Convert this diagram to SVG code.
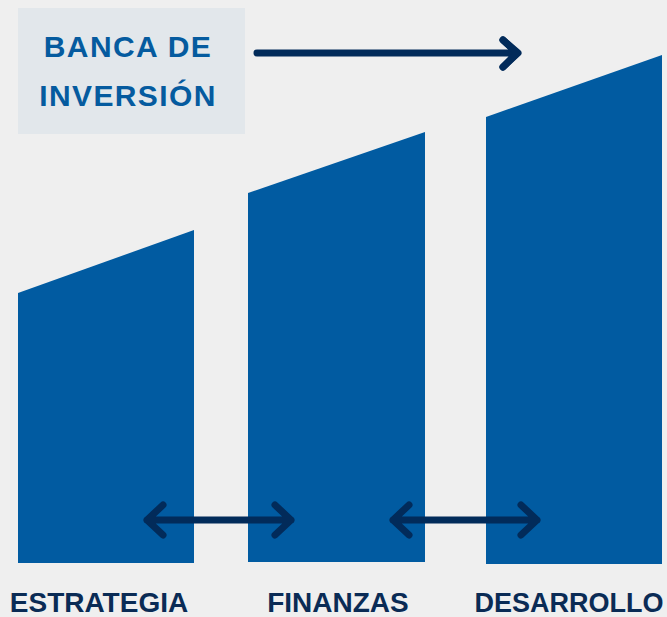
<svg xmlns="http://www.w3.org/2000/svg" width="667" height="617" viewBox="0 0 667 617">
<defs>
<style>
.bar{fill:#015ba1}
.conn{stroke:#022b5a;stroke-width:7;fill:none;stroke-linecap:round;stroke-linejoin:round}
.lbl{font-family:"Liberation Sans",Arial,sans-serif;font-weight:bold;font-size:28px;fill:#0a2b55;text-anchor:middle}
.ttl{font-family:"Liberation Sans",Arial,sans-serif;font-weight:bold;font-size:30px;fill:#055b9f;text-anchor:middle;letter-spacing:1.4px}
</style>
</defs>
<rect width="667" height="617" fill="#efefef"/>
<g id="banca">
<rect x="18" y="8" width="227" height="126" fill="#e2e7eb"/>
<text class="ttl" x="128" y="57">BANCA DE</text>
<text class="ttl" x="128" y="106">INVERSIÓN</text>
</g>
<g id="estrategia">
<polygon class="bar" points="18,293 194,230 194,563 18,563"/>
<text class="lbl" x="99" y="612">ESTRATEGIA</text>
</g>
<g id="finanzas">
<polygon class="bar" points="248,193 425,132 425,562 248,562"/>
<text class="lbl" x="338" y="612">FINANZAS</text>
</g>
<g id="desarrollo">
<polygon class="bar" points="486,117 662,55 662,564 486,564"/>
<text class="lbl" x="569" y="612" style="font-size:27px">DESARROLLO</text>
</g>
<g id="connectors">
<path class="conn" d="M257,53 H517 M503,40 L517,53 L503,67" stroke-linecap="butt"/>
<path class="conn" d="M503,40 L518,53 L503,67"/>
<path class="conn" d="M147,520 H291 M163,505 L147,520 L163,535 M275,505 L291,520 L275,535"/>
<path class="conn" d="M393,520 H537 M409,505 L393,520 L409,535 M521,505 L537,520 L521,535"/>
</g>
</svg>
